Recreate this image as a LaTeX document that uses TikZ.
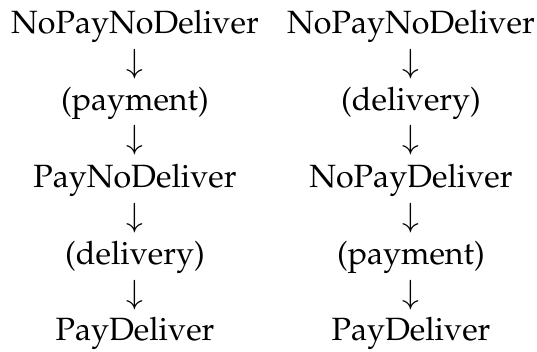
\documentclass[tikz,border=0pt]{standalone}
\usepackage[T1]{fontenc}
\usepackage{mathpazo}
\begin{document}
\begin{tikzpicture}[x=1pt,y=1pt,
  every node/.style={inner sep=0pt, outer sep=0pt, anchor=base,
    font=\fontsize{32.2}{38}\selectfont}]
\useasboundingbox (0,0) rectangle (537,351);
% first order: payment, then delivery
\node (a1) at (135,351-34)    {NoPayNoDeliver};
\node (a2) at (135,351-72.5)  {$\downarrow$};
\node (a3) at (135,351-110.5) {(payment)};
\node (a4) at (135,351-149)   {$\downarrow$};
\node (a5) at (135,351-187.5) {PayNoDeliver};
\node (a6) at (135,351-226)   {$\downarrow$};
\node (a7) at (135,351-264.5) {(delivery)};
\node (a8) at (135,351-303)   {$\downarrow$};
\node (a9) at (135,351-340)   {PayDeliver};
% second order: delivery, then payment
\node (b1) at (411,351-34)    {NoPayNoDeliver};
\node (b2) at (411,351-72.5)  {$\downarrow$};
\node (b3) at (411,351-110.5) {(delivery)};
\node (b4) at (411,351-149)   {$\downarrow$};
\node (b5) at (411,351-187.5) {NoPayDeliver};
\node (b6) at (411,351-226)   {$\downarrow$};
\node (b7) at (411,351-264.5) {(payment)};
\node (b8) at (411,351-303)   {$\downarrow$};
\node (b9) at (411,351-340)   {PayDeliver};
\end{tikzpicture}
\end{document}
